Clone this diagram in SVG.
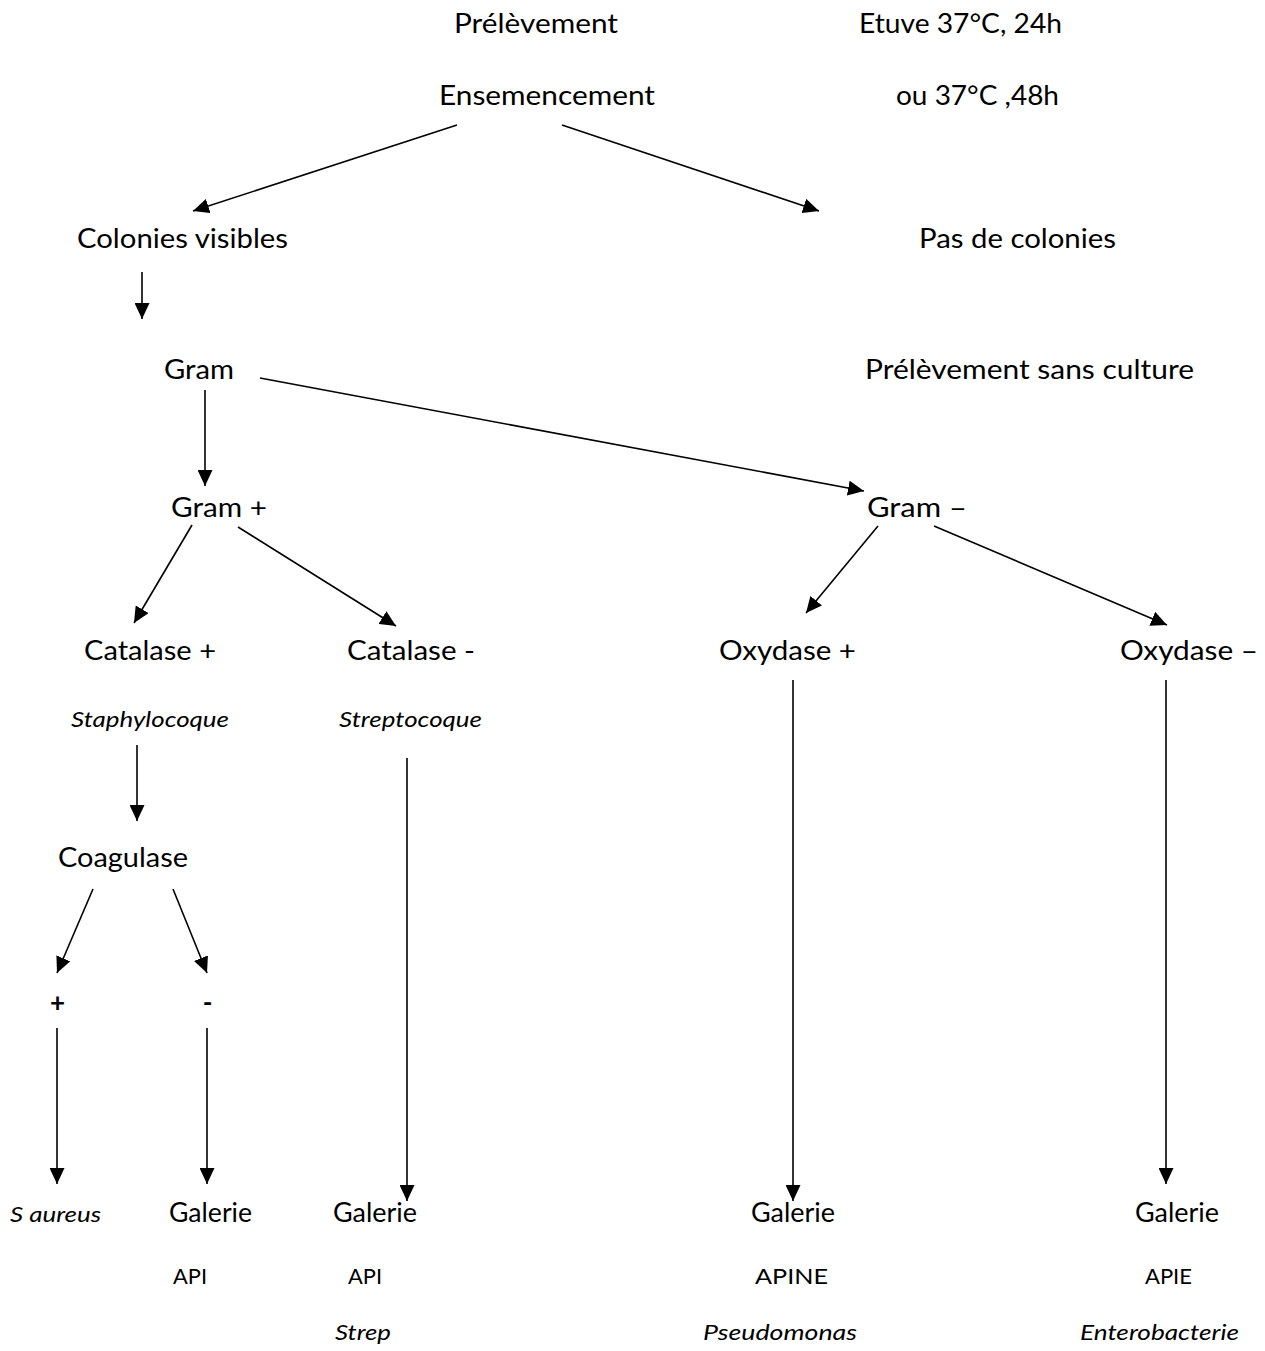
<svg xmlns="http://www.w3.org/2000/svg" width="1265" height="1351" viewBox="0 0 1265 1351">
<style>
text{font-family:"Lato","Open Sans","Liberation Sans",sans-serif;fill:#000;}
.l{font-size:26px;}
.s{font-size:21px;}
.i{font-style:italic;}
.b{font-weight:bold;font-size:26px;}
.c line{stroke:#000;stroke-width:1.6;marker-end:url(#ah);}
</style>
<defs>
<marker id="ah" markerUnits="userSpaceOnUse" markerWidth="16" markerHeight="15" refX="16" refY="7.5" orient="auto">
<path d="M0,0 L16,7.5 L0,15 Z" fill="#000"/>
</marker>
</defs>
<rect width="1265" height="1351" fill="#fff"/>
<g id="n-prelevement"><text class="l" x="454" y="33" textLength="164" lengthAdjust="spacingAndGlyphs">Prélèvement</text></g>
<g id="n-etuve"><text class="l" x="859" y="33" textLength="203" lengthAdjust="spacingAndGlyphs">Etuve 37°C, 24h</text></g>
<g id="n-ensemencement"><text class="l" x="439" y="105" textLength="216" lengthAdjust="spacingAndGlyphs">Ensemencement</text></g>
<g id="n-ou"><text class="l" x="896" y="105" textLength="163" lengthAdjust="spacingAndGlyphs">ou 37°C ,48h</text></g>
<g id="n-colonies"><text class="l" x="77" y="248" textLength="211" lengthAdjust="spacingAndGlyphs">Colonies visibles</text></g>
<g id="n-pas"><text class="l" x="919" y="248" textLength="197" lengthAdjust="spacingAndGlyphs">Pas de colonies</text></g>
<g id="n-gram"><text class="l" x="164" y="379" textLength="70" lengthAdjust="spacingAndGlyphs">Gram</text></g>
<g id="n-sansculture"><text class="l" x="865" y="379" textLength="329" lengthAdjust="spacingAndGlyphs">Prélèvement sans culture</text></g>
<g id="n-gramplus"><text class="l" x="171" y="517" textLength="96" lengthAdjust="spacingAndGlyphs">Gram +</text></g>
<g id="n-grammoins"><text class="l" x="867" y="517" textLength="100" lengthAdjust="spacingAndGlyphs">Gram –</text></g>
<g id="n-catplus"><text class="l" x="84" y="660" textLength="132" lengthAdjust="spacingAndGlyphs">Catalase +</text></g>
<g id="n-catmoins"><text class="l" x="347" y="660" textLength="128" lengthAdjust="spacingAndGlyphs">Catalase -</text></g>
<g id="n-oxyplus"><text class="l" x="719" y="660" textLength="137" lengthAdjust="spacingAndGlyphs">Oxydase +</text></g>
<g id="n-oxymoins"><text class="l" x="1120" y="660" textLength="138" lengthAdjust="spacingAndGlyphs">Oxydase –</text></g>
<g id="n-staph"><text class="s i" x="71" y="727" textLength="158" lengthAdjust="spacingAndGlyphs">Staphylocoque</text></g>
<g id="n-strepto"><text class="s i" x="339" y="727" textLength="143" lengthAdjust="spacingAndGlyphs">Streptocoque</text></g>
<g id="n-coagulase"><text class="l" x="58" y="867" textLength="130" lengthAdjust="spacingAndGlyphs">Coagulase</text></g>
<g id="n-plus"><text class="b" x="57.5" y="1012" text-anchor="middle">+</text></g>
<g id="n-moins"><text class="b" x="207.5" y="1012" text-anchor="middle">-</text></g>
<g id="n-saureus"><text class="s i" x="10" y="1222" textLength="91" lengthAdjust="spacingAndGlyphs">S aureus</text></g>
<g id="n-galerie1"><text class="l" x="169" y="1222" textLength="83" lengthAdjust="spacingAndGlyphs">Galerie</text><text class="s" x="173" y="1284" textLength="34" lengthAdjust="spacingAndGlyphs">API</text></g>
<g id="n-galerie2"><text class="l" x="333" y="1222" textLength="84" lengthAdjust="spacingAndGlyphs">Galerie</text><text class="s" x="348" y="1284" textLength="34" lengthAdjust="spacingAndGlyphs">API</text><text class="s i" x="335" y="1340" textLength="56" lengthAdjust="spacingAndGlyphs">Strep</text></g>
<g id="n-galerie3"><text class="l" x="751" y="1222" textLength="84" lengthAdjust="spacingAndGlyphs">Galerie</text><text class="s" x="755" y="1284" textLength="73" lengthAdjust="spacingAndGlyphs">APINE</text><text class="s i" x="703" y="1340" textLength="154" lengthAdjust="spacingAndGlyphs">Pseudomonas</text></g>
<g id="n-galerie4"><text class="l" x="1135" y="1222" textLength="84" lengthAdjust="spacingAndGlyphs">Galerie</text><text class="s" x="1145" y="1284" textLength="47" lengthAdjust="spacingAndGlyphs">APIE</text><text class="s i" x="1080" y="1340" textLength="159" lengthAdjust="spacingAndGlyphs">Enterobacterie</text></g>
<g id="connectors" class="c">
<line x1="457" y1="125" x2="193" y2="211"/>
<line x1="562" y1="125" x2="819" y2="211"/>
<line x1="142" y1="272" x2="142" y2="319"/>
<line x1="205" y1="390" x2="205" y2="486"/>
<line x1="260" y1="378" x2="864" y2="491"/>
<line x1="192" y1="525" x2="134" y2="623"/>
<line x1="238" y1="527" x2="396" y2="626"/>
<line x1="878" y1="526" x2="806" y2="613"/>
<line x1="934" y1="526" x2="1167" y2="625"/>
<line x1="793" y1="680" x2="793" y2="1201"/>
<line x1="1166" y1="680" x2="1166" y2="1184"/>
<line x1="137" y1="745" x2="137" y2="821"/>
<line x1="407" y1="758" x2="407" y2="1201"/>
<line x1="93" y1="889" x2="57" y2="973"/>
<line x1="173" y1="889" x2="207" y2="973"/>
<line x1="57" y1="1028" x2="57" y2="1184"/>
<line x1="207" y1="1028" x2="207" y2="1184"/>
</g>
</svg>
